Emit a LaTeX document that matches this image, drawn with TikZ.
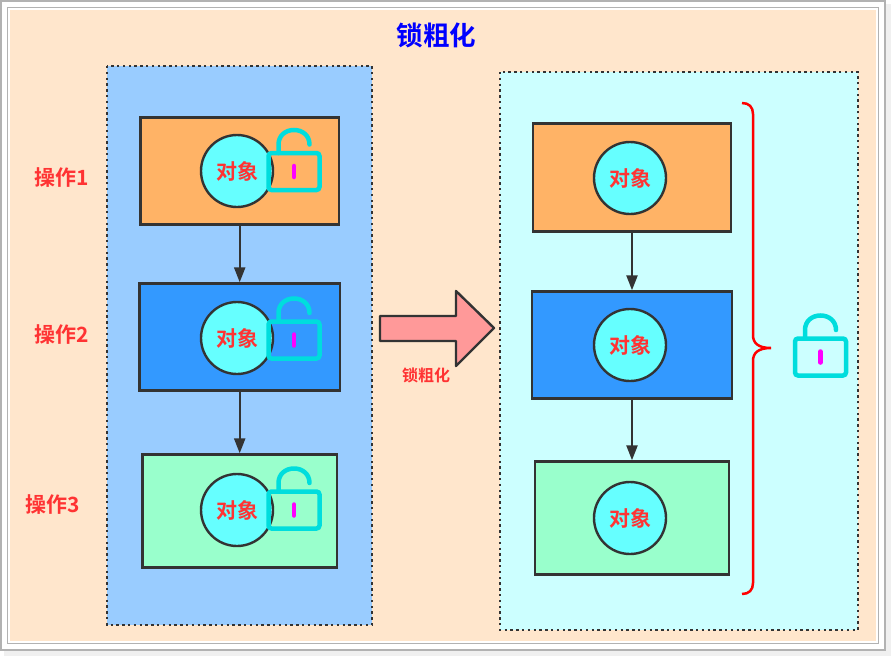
\documentclass[tikz,border=0pt]{standalone}
\usepackage{fontspec}
\setmainfont{Noto Sans CJK SC}[BoldFont={Noto Sans CJK SC Bold}]
\usetikzlibrary{arrows.meta}
\definecolor{beigebg}{HTML}{FFE6CC}
\definecolor{panela}{HTML}{99CCFF}
\definecolor{panelb}{HTML}{CCFFFF}
\definecolor{boxa}{HTML}{FFB366}
\definecolor{boxb}{HTML}{3399FF}
\definecolor{boxc}{HTML}{99FFCC}
\definecolor{objfill}{HTML}{66FFFF}
\definecolor{inkdark}{HTML}{333333}
\definecolor{inkred}{HTML}{FF3333}
\definecolor{lockcol}{HTML}{00DDDD}
\definecolor{keycol}{HTML}{FF00FF}
\tikzset{
  panel/.style={draw=inkdark,line width=2.4pt,dash pattern=on 2.4pt off 3.4pt},
  opbox/.style={draw=inkdark,line width=2.4pt,inner sep=0pt},
  objnode/.style={circle,draw=inkdark,line width=2.4pt,fill=objfill,minimum size=72pt,inner sep=0pt,
    text=inkred,font=\fontsize{21}{25}\selectfont\bfseries},
  oplabel/.style={text=inkred,inner sep=0pt,font=\fontsize{21}{25}\selectfont\bfseries},
  flow/.style={draw=inkdark,line width=2.4pt,-{Triangle[length=15pt,width=11pt]}},
  lock/.pic={
    \draw[lockcol,line width=4.5pt,rounded corners=3pt,line cap=round] (-25.5,-18.5) rectangle (25.5,18.5);
    \draw[lockcol,line width=4.5pt,line cap=round] (-15.5,-18.5) -- (-15.5,-27)
      .. controls (-15.5,-36) and (-8.5,-41.5) .. (0,-41.5)
      .. controls (8.5,-41.5) and (15.5,-36) .. (15.5,-27);
    \draw[keycol,line width=4.5pt,line cap=round] (0,-5.5) -- (0,5.5);
  }
}
\begin{document}
\begin{tikzpicture}[x=1pt,y=-1pt]
    \useasboundingbox (0,0) rectangle (891,656);
    \fill[gray!12] (4,4) rectangle (891,656);
    \draw[gray!60,line width=1.5pt,fill=white] (0.75,0.75) rectangle (885,650);
    \draw[gray!60,line width=1pt,fill=white] (7.5,7.5) rectangle (878.5,643);
    \fill[beigebg] (10,10) rectangle (876,641);

    \node[inner sep=0pt,text=blue,font=\fontsize{26.5}{30}\selectfont\bfseries] (title) at (436.5,35) {锁粗化};

    \draw[panel,fill=panela] (107,66) rectangle (372,625);
    \draw[panel,fill=panelb] (500,72) rectangle (858,630);

    % boxes
    \foreach \n/\x/\y/\w/\h/\c in {
        la/239.7/171/198.5/107/boxa,
        lb/239.7/337/200.5/107/boxb,
        lc/239.7/511/194.5/113/boxc,
        ra/632/177.5/198/108/boxa,
        rb/632/345/200/107/boxb,
        rc/632/518/194/113/boxc}{
      \node[opbox,fill=\c,minimum width=\w pt,minimum height=\h pt] (\n) at (\x,\y) {};
    }

    % objects
    \foreach \n/\x/\y in {
        oa/237/171,
        ob/237/338,
        oc/237/510,
        od/630/178,
        oe/630/345,
        of/630/518}{
      \node[objnode] (\n) at (\x,\y) {\raisebox{-1pt}{对象}};
    }

    \foreach \a/\b in {la/lb,lb/lc,ra/rb,rb/rc}{
      \draw[flow] (\a) -- (\b);
    }

    \foreach \y in {171.5,340,510}{
      \pic at (294,\y) {lock};
    }
    \pic at (820.5,357) {lock};

    \node[oplabel] (opa) at (61.5,178) {操作1};
    \node[oplabel] (opb) at (61.5,335) {操作2};
    \node[oplabel] (opc) at (53,505) {操作3};

    \draw[inkdark,line width=2.4pt,fill=red!40!white,line join=round] (380,316) -- (456,316) -- (456,291)
      -- (494,328) -- (456,366) -- (456,341) -- (380,341) -- cycle;
    \node[inner sep=0pt,text=inkred,font=\fontsize{16}{19}\selectfont\bfseries] (coarse) at (426,375) {锁粗化};

    \draw[red,line width=2.5pt] (742,103) .. controls (749,103) and (753,107) .. (753,114)
      -- (753,335) .. controls (753,343) and (758,348) .. (771,348)
      .. controls (758,348) and (753,353) .. (753,361)
      -- (753,583) .. controls (753,590) and (749,594) .. (742,594);
\end{tikzpicture}
\end{document}
